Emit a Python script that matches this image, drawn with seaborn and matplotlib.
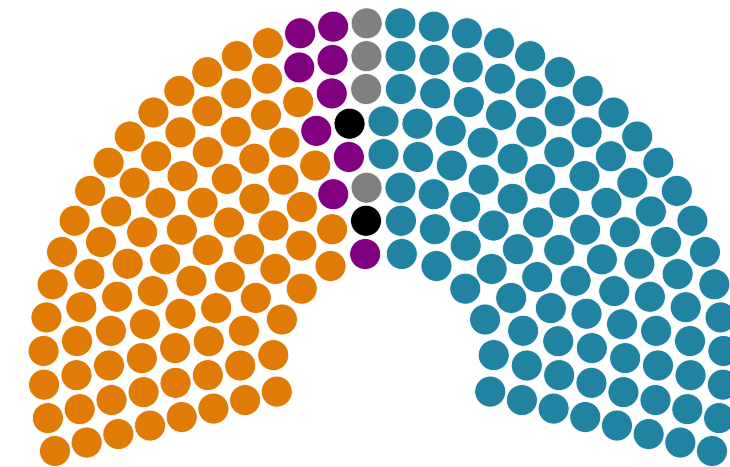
import numpy as np
import pandas as pd
import matplotlib
matplotlib.use("Agg")
import matplotlib.pyplot as plt
import seaborn as sns

# ---- data ----
parties = ["Orange", "Purple", "Black", "Grey", "Teal"]
seats = [84, 9, 2, 4, 101]
colors = ["#E07C05", "#800080", "#000000", "#808080", "#1F83A1"]
row_seats = [12, 16, 20, 23, 27, 30, 34, 38]

# ---- layout (pixel space of the 730x467 canvas) ----
cx, cy = 383.5, 363.0
r_inner, r_step = 110.5, 32.8
theta_max, theta_min = 195.0, -15.0

recs = []
for i, n in enumerate(row_seats):
    r = r_inner + i * r_step
    for a in np.linspace(theta_max, theta_min, n):
        recs.append((round(a, 6), r))
df = pd.DataFrame(recs, columns=["angle", "radius"])
df = df.sort_values(["angle", "radius"], ascending=[False, True],
                    kind="mergesort").reset_index(drop=True)
df["party"] = np.repeat(parties, seats)
t = np.deg2rad(df["angle"].to_numpy())
df["x"] = cx + df["radius"] * np.cos(t)
df["y"] = cy - df["radius"] * np.sin(t)

sns.set_theme(style="white")
fig = plt.figure(figsize=(7.3, 4.67), dpi=100)
ax = fig.add_axes([0, 0, 1, 1])
sns.scatterplot(data=df, x="x", y="y", hue="party",
                palette=dict(zip(parties, colors)), s=498,
                edgecolor="white", linewidth=0.6, legend=False, ax=ax)
ax.set_xlim(0, 730)
ax.set_ylim(467, 0)
ax.axis("off")
fig.savefig("out.png", dpi=100, facecolor="white")
